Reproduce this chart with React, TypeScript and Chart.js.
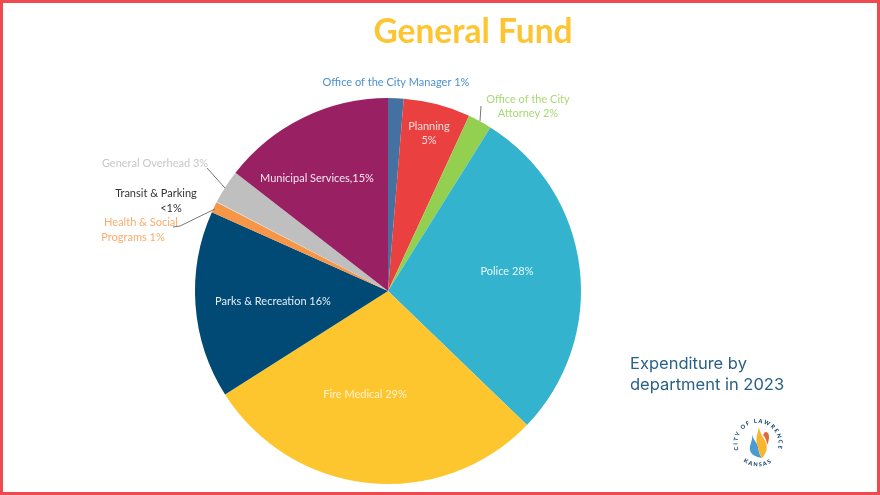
import React, { useEffect, useRef } from "react";
import { Chart, registerables } from "chart.js";

Chart.register(...registerables);

const categories = [
  "Office of the City Manager",
  "Planning",
  "Office of the City Attorney",
  "Police",
  "Fire Medical",
  "Parks & Recreation",
  "Health & Social Programs",
  "Transit & Parking",
  "General Overhead",
  "Municipal Services",
];
const values = [1.3, 5.6, 2.0, 28.3, 28.8, 15.7, 0.9, 0.05, 2.85, 14.5];
const sliceColors = ["#44719f", "#ea4040", "#94d050", "#33b3ce", "#fec62e", "#014a76", "#f79646", "#d9d9d9", "#bfbfbf", "#9a2064"];

const FONT = 'Lato, "Open Sans", sans-serif';

type Line = { text: string; x: number; y: number };
type Label = { lines: Line[]; color: string };
const sliceLabels: Label[] = [
  { lines: [{ text: "Office of the City Manager 1%", x: 396, y: 82 }], color: "#4a90d2" },
  { lines: [{ text: "Planning", x: 429, y: 126 }, { text: "5%", x: 429, y: 140 }], color: "#fbdcdc" },
  { lines: [{ text: "Office of the City", x: 528, y: 99 }, { text: "Attorney 2%", x: 528, y: 113 }], color: "#a9d972" },
  { lines: [{ text: "Police 28%", x: 507, y: 271 }], color: "#e8f7fa" },
  { lines: [{ text: "Fire Medical 29%", x: 365, y: 394 }], color: "#fff3cf" },
  { lines: [{ text: "Parks & Recreation 16%", x: 273, y: 301 }], color: "#e6eef3" },
  { lines: [{ text: "Municipal Services,15%", x: 317, y: 178 }], color: "#f6e6f0" },
  { lines: [{ text: "General Overhead 3%", x: 155, y: 163 }], color: "#c8c8c8" },
  { lines: [{ text: "Transit & Parking", x: 156, y: 193 }, { text: "<1%", x: 171, y: 208 }], color: "#333333" },
  { lines: [{ text: "Health & Social", x: 141, y: 222 }, { text: "Programs 1%", x: 133, y: 237 }], color: "#fbab6c" },
];
const leaders: [number, number][][] = [
  [[207, 168], [225, 188]],
  [[173, 227], [180, 226], [215, 209]],
  [[481, 106], [480, 121]],
];

const annotationPlugin = {
  id: "annotationText",
  afterDraw(chart: Chart) {
    const ctx = chart.ctx;
    ctx.save();
    ctx.textBaseline = "middle";
    ctx.strokeStyle = "#777777";
    ctx.lineWidth = 1;
    leaders.forEach((l) => {
      ctx.beginPath();
      l.forEach(([x, y], i) => (i ? ctx.lineTo(x, y) : ctx.moveTo(x, y)));
      ctx.stroke();
    });
    ctx.textAlign = "center";
    ctx.font = `11px ${FONT}`;
    sliceLabels.forEach((lab) => {
      ctx.fillStyle = lab.color;
      lab.lines.forEach((l) => ctx.fillText(l.text, l.x, l.y));
    });
    ctx.font = `bold 33.5px ${FONT}`;
    ctx.fillStyle = "#fdc531";
    ctx.fillText("General Fund", 473, 32);
    ctx.textAlign = "left";
    ctx.font = `16.5px Inter, ${FONT}`;
    ctx.fillStyle = "#2a6187";
    ctx.fillText("Expenditure by", 630, 364);
    ctx.fillText("department in 2023", 630, 385);
    ctx.restore();
  },
};

function Logo() {
  return (
    <svg width="52" height="52" viewBox="0 0 52 52" style={{ position: "absolute", left: 732, top: 416 }}>
      <defs>
        <path id="logoTop" d="M 7 35 A 20.5 20.5 0 1 1 45 35" />
        <path id="logoBottom" d="M 4 36 A 24 24 0 0 0 48 36" />
      </defs>
      <text fontFamily="Lato, sans-serif" fontWeight="900" fontSize="5.6" fill="#15466f" letterSpacing="1.5">
        <textPath href="#logoTop" startOffset="50%" textAnchor="middle">CITY OF LAWRENCE</textPath>
      </text>
      <text fontFamily="Lato, sans-serif" fontWeight="900" fontSize="5.6" fill="#15466f" letterSpacing="1.5">
        <textPath href="#logoBottom" startOffset="50%" textAnchor="middle">KANSAS</textPath>
      </text>
      <path d="M 20 19 C 21 25 17 29 18 34 C 19 39 24 41 30 42 C 26 37 27 32 25 28 C 23 25 21 22 20 19 Z" fill="#4a9bd4" />
      <path d="M 27 11 C 26 17 23 22 25 28 C 27 33 27 38 30 42 C 34 38 36 33 34 27 C 32 22 28 18 27 11 Z" fill="#f9b52c" />
      <path d="M 33 16 C 36 16 37 18 37 21 C 37 24 36 27 35 29 C 35 25 33 21 31 19 Z" fill="#e8653a" />
    </svg>
  );
}

export default function App() {
  const ref = useRef<HTMLCanvasElement>(null);
  useEffect(() => {
    document.body.style.margin = "0";
    const chart = new Chart(ref.current!, {
      type: "pie",
      data: {
        labels: categories,
        datasets: [{ data: values, backgroundColor: sliceColors, borderWidth: 0 }],
      },
      options: {
        responsive: false,
        animation: false,
        layout: { padding: { top: 98, bottom: 11, left: 0, right: 104 } },
        plugins: { legend: { display: false }, tooltip: { enabled: false } },
      },
      plugins: [annotationPlugin],
    });
    return () => chart.destroy();
  }, []);
  return (
    <div style={{ position: "relative", width: 880, height: 495, background: "#fff", overflow: "hidden" }}>
      <canvas ref={ref} width={880} height={495} style={{ position: "absolute", left: 0, top: 0 }} />
      <Logo />
      <div style={{ position: "absolute", inset: 0, border: "3px solid #ef4a50", boxSizing: "border-box", pointerEvents: "none" }} />
    </div>
  );
}
